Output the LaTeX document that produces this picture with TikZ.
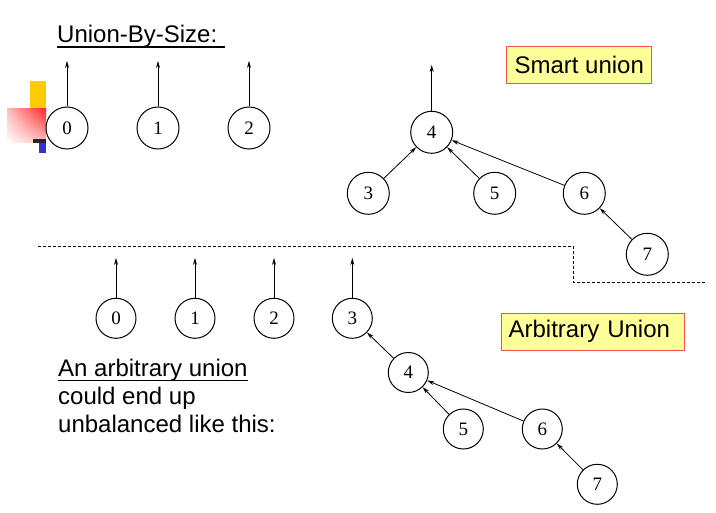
\documentclass[tikz,border=0pt]{standalone}
\usepackage{fontspec}
\setmainfont{Liberation Sans}
\newfontfamily\numfont{Liberation Serif}
\usetikzlibrary{arrows.meta,shadings}
\definecolor{boxfill}{RGB}{255,255,153}
\definecolor{boxline}{RGB}{240,80,80}
\definecolor{decoyellow}{RGB}{255,204,0}
\definecolor{decoblue}{RGB}{51,51,204}
\begin{document}
\begin{tikzpicture}[x=1pt,y=-1pt,
  vtx/.style={circle,draw,line width=1pt,minimum size=42pt,inner sep=0pt,font=\numfont\fontsize{19}{19}\selectfont},
  vtxs/.style={vtx,minimum size=40pt},
  arr/.style={line width=0.8pt,-{Stealth[length=7pt,width=4pt]}},
  label/.style={draw=boxline,fill=boxfill,line width=1pt,inner sep=0pt,font=\fontsize{24}{28}\selectfont},
  txt/.style={inner sep=0pt,anchor=base west,font=\fontsize{24}{28}\selectfont},
  sep/.style={dashed,line width=0.7pt,dash pattern=on 3pt off 2pt}]
\useasboundingbox (0,0) rectangle (716,513);
% decoration
\fill[decoyellow] (30,81) rectangle (46,112);
\shade[upper right=red!85,upper left=red!25,lower right=red!25,lower left=white] (7,109) rectangle (46,143);
\fill[black!85] (33,139) rectangle (46,143);
\fill[decoblue] (39,143) rectangle (46,153);
% titles
\node[txt] (t1) at (57,43) {Union-By-Size:};
\draw[line width=1.4pt] (57,47) -- (225,47);
\node[label,minimum width=145pt,minimum height=36.6pt] (b1) at (579.2,65) {Smart union};
\node[label,minimum height=36.7pt,inner xsep=7pt,text width=169.3pt,align=left] (b2) at (593.3,331.7) {Arbitrary Union};
% top: union by size
\node[vtx] (a0) at (67,128) {0};
\node[vtx] (a1) at (158,128) {1};
\node[vtx] (a2) at (249,128) {2};
\coordinate (u0) at (67,61);
\coordinate (u1) at (158,61);
\coordinate (u2) at (249,61);
\draw[arr] (a0) -- (u0);
\draw[arr] (a1) -- (u1);
\draw[arr] (a2) -- (u2);
\node[vtx] (s4) at (431.7,132.3) {4};
\node[vtx] (s3) at (368.3,193.3) {3};
\node[vtx] (s5) at (494.7,193.3) {5};
\node[vtx] (s6) at (584.3,193.3) {6};
\node[vtx] (s7) at (647.3,254.3) {7};
\coordinate (u4) at (431.7,65);
\draw[arr] (s4) -- (u4);
\draw[arr] (s3) -- (s4);
\draw[arr] (s5) -- (s4);
\draw[arr] (s6) -- (s4);
\draw[arr] (s7) -- (s6);
% separator
\coordinate (d1) at (38,246.7);
\coordinate (d2) at (573.3,246.7);
\coordinate (d3) at (573.3,282.7);
\coordinate (d4) at (707,282.7);
\draw[sep] (d1) -- (d2) -- (d3) -- (d4);
% bottom: arbitrary union
\node[vtxs] (c0) at (116,318.3) {0};
\node[vtxs] (c1) at (195,318.3) {1};
\node[vtxs] (c2) at (274,318.3) {2};
\node[vtxs] (c3) at (352.3,318.3) {3};
\coordinate (v0) at (116,258);
\coordinate (v1) at (195,258);
\coordinate (v2) at (274,258);
\coordinate (v3) at (352.3,258);
\draw[arr] (c0) -- (v0);
\draw[arr] (c1) -- (v1);
\draw[arr] (c2) -- (v2);
\draw[arr] (c3) -- (v3);
\node[vtxs] (c4) at (408.3,372.5) {4};
\node[vtxs] (c5) at (463.3,429) {5};
\node[vtxs] (c6) at (542.3,429) {6};
\node[vtxs] (c7) at (597.3,484.3) {7};
\draw[arr] (c4) -- (c3);
\draw[arr] (c5) -- (c4);
\draw[arr] (c6) -- (c4);
\draw[arr] (c7) -- (c6);
% bottom-left text
\node[txt] (l1) at (58,377) {An arbitrary union};
\draw[line width=1.4pt] (58,380.5) -- (248,380.5);
\node[txt] (l2) at (58,405) {could end up};
\node[txt] (l3) at (58,433) {unbalanced like this:};
\end{tikzpicture}
\end{document}
